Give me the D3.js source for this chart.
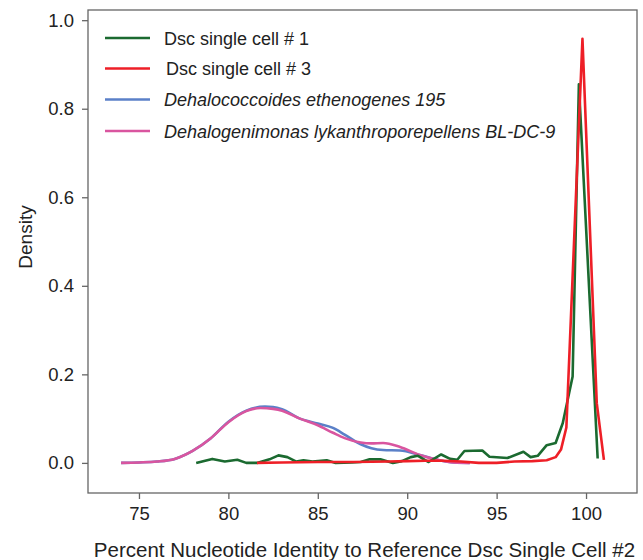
<!DOCTYPE html>
<html>
<head>
<meta charset="utf-8">
<script src="https://cdn.jsdelivr.net/npm/d3@7"></script>
<style>
  body { margin: 0; background: #fff; }
  svg text { font-family: "Liberation Sans", Arial, sans-serif; fill: #222; }
</style>
</head>
<body>
<div id="chart"></div>
<script>
// data
const seriesNames = ['Dsc single cell # 1', 'Dsc single cell # 3', 'Dehalococcoides ethenogenes 195', 'Dehalogenimonas lykanthroporepellens BL-DC-9']
const seriesColors = ['#1b6a30', '#ee1f27', '#5b80c8', '#d9559f']
const italicSeries = [false, false, true, true]

const xTicks = [75, 80, 85, 90, 95, 100]
const yTicks = [0.0, 0.2, 0.4, 0.6, 0.8, 1.0]

const cell1X = [78.2, 79.1, 79.8, 80.5, 81.0, 81.6, 82.3, 82.8, 83.3, 83.8, 84.2, 84.7, 85.5, 86.0, 86.9, 87.4, 87.9, 88.5, 89.2, 89.7, 90.2, 90.6, 91.2, 91.9, 92.4, 92.8, 93.2, 94.2, 94.6, 95.6, 96.5, 96.9, 97.3, 97.8, 98.3, 98.7, 99.25, 99.6, 100.65]
const cell1Y = [0.0, 0.009, 0.003, 0.007, 0.0, 0.0, 0.008, 0.017, 0.013, 0.003, 0.006, 0.003, 0.006, 0.0, 0.001, 0.002, 0.008, 0.008, 0.0, 0.004, 0.013, 0.016, 0.002, 0.019, 0.009, 0.007, 0.027, 0.028, 0.014, 0.011, 0.025, 0.013, 0.016, 0.040, 0.045, 0.090, 0.195, 0.855, 0.010]

const cell3X = [81.6, 83, 85, 87, 89, 90, 91, 92, 93, 94, 95, 96, 97, 97.8, 98.3, 98.6, 98.9, 99.8, 100.6, 101.0]
const cell3Y = [0.0, 0.001, 0.002, 0.002, 0.003, 0.004, 0.005, 0.005, 0.003, 0.0, 0.0, 0.003, 0.004, 0.006, 0.013, 0.030, 0.080, 0.958, 0.135, 0.007]

const dehaloX = [74, 75, 76, 77, 78, 79, 80, 81, 82.05, 82.5, 83, 84, 85, 85.85, 86.5, 87.4, 88, 88.65, 89.6, 90.7, 91.7, 92.6, 93.5]
const dehaloY = [0.0, 0.001, 0.003, 0.009, 0.027, 0.055, 0.093, 0.118, 0.127, 0.126, 0.121, 0.100, 0.089, 0.079, 0.064, 0.042, 0.033, 0.029, 0.028, 0.018, 0.007, 0.001, 0.0]

const dhgX = [74, 75, 76, 77, 78, 79, 80, 81, 81.8, 82.5, 83, 84, 85, 85.85, 86.5, 87.4, 88, 88.65, 89.6, 90.7, 91.7, 92.6, 93.5]
const dhgY = [0.0, 0.001, 0.003, 0.009, 0.027, 0.055, 0.092, 0.117, 0.124, 0.122, 0.118, 0.100, 0.085, 0.068, 0.056, 0.046, 0.044, 0.045, 0.036, 0.018, 0.007, 0.001, 0.0]

const seriesX = [cell1X, cell3X, dehaloX, dhgX]
const seriesY = [cell1Y, cell3Y, dehaloY, dhgY]

const width = 643
const height = 560
const margin = { top: 10, right: 6, bottom: 67, left: 88 }

const svg = d3.select('#chart')
  .append('svg')
    .attr('width', width)
    .attr('height', height)

const xScale = d3.scaleLinear()
  .domain([72.15, 102.85])
  .range([margin.left, width - margin.right])

const yScale = d3.scaleLinear()
  .domain([-0.068, 1.023])
  .range([height - margin.bottom, margin.top])

// frame
svg.append('rect')
  .attr('x', margin.left)
  .attr('y', margin.top)
  .attr('width', width - margin.left - margin.right)
  .attr('height', height - margin.top - margin.bottom)
  .attr('fill', 'none')
  .attr('stroke', '#666')
  .attr('stroke-width', 1.3)

const xAxis = svg.append('g')
  .attr('transform', `translate(0, ${height - margin.bottom})`)
  .call(d3.axisBottom(xScale).tickValues(xTicks).tickSize(6).tickPadding(8).tickFormat(d3.format('d')))

const yAxis = svg.append('g')
  .attr('transform', `translate(${margin.left}, 0)`)
  .call(d3.axisLeft(yScale).tickValues(yTicks).tickSize(6).tickPadding(8).tickFormat(d3.format('.1f')))

;[xAxis, yAxis].forEach(ax => {
  ax.select('.domain').remove()
  ax.selectAll('line').attr('stroke', '#666').attr('stroke-width', 1.3)
  ax.selectAll('text').style('font-size', '18.5px').attr('fill', '#222')
})

svg.append('text')
  .attr('x', (margin.left + width - margin.right) / 2 + 2)
  .attr('y', 557)
  .attr('text-anchor', 'middle')
  .style('font-size', '20.5px')
  .text('Percent Nucleotide Identity to Reference Dsc Single Cell #2')

svg.append('text')
  .attr('transform', 'translate(32, 237) rotate(-90)')
  .attr('text-anchor', 'middle')
  .style('font-size', '19px')
  .text('Density')

// curves (draw blue/magenta first, then green, red on top)
const order = [2, 3, 0, 1]
order.forEach(i => {
  const pts = seriesX[i].map((x, j) => [x, seriesY[i][j]])
  const line = d3.line()
    .x(d => xScale(d[0]))
    .y(d => yScale(d[1]))
    .curve(i >= 2 ? d3.curveMonotoneX : d3.curveLinear)
  svg.append('path')
    .datum(pts)
    .attr('d', line)
    .attr('fill', 'none')
    .attr('stroke', seriesColors[i])
    .attr('stroke-width', 2.6)
    .attr('stroke-linejoin', 'round')
})

// legend
const legend = svg.append('g')
const legendY = [38, 68.5, 99.5, 131]
seriesNames.forEach((name, i) => {
  legend.append('line')
    .attr('x1', 105).attr('x2', 150)
    .attr('y1', legendY[i]).attr('y2', legendY[i])
    .attr('stroke', seriesColors[i])
    .attr('stroke-width', 2.6)
  legend.append('text')
    .attr('x', i === 1 ? 166 : 164)
    .attr('y', legendY[i] + 6.5)
    .style('font-size', '18px')
    .style('font-style', italicSeries[i] ? 'italic' : 'normal')
    .text(name)
})
</script>
</body>
</html>
